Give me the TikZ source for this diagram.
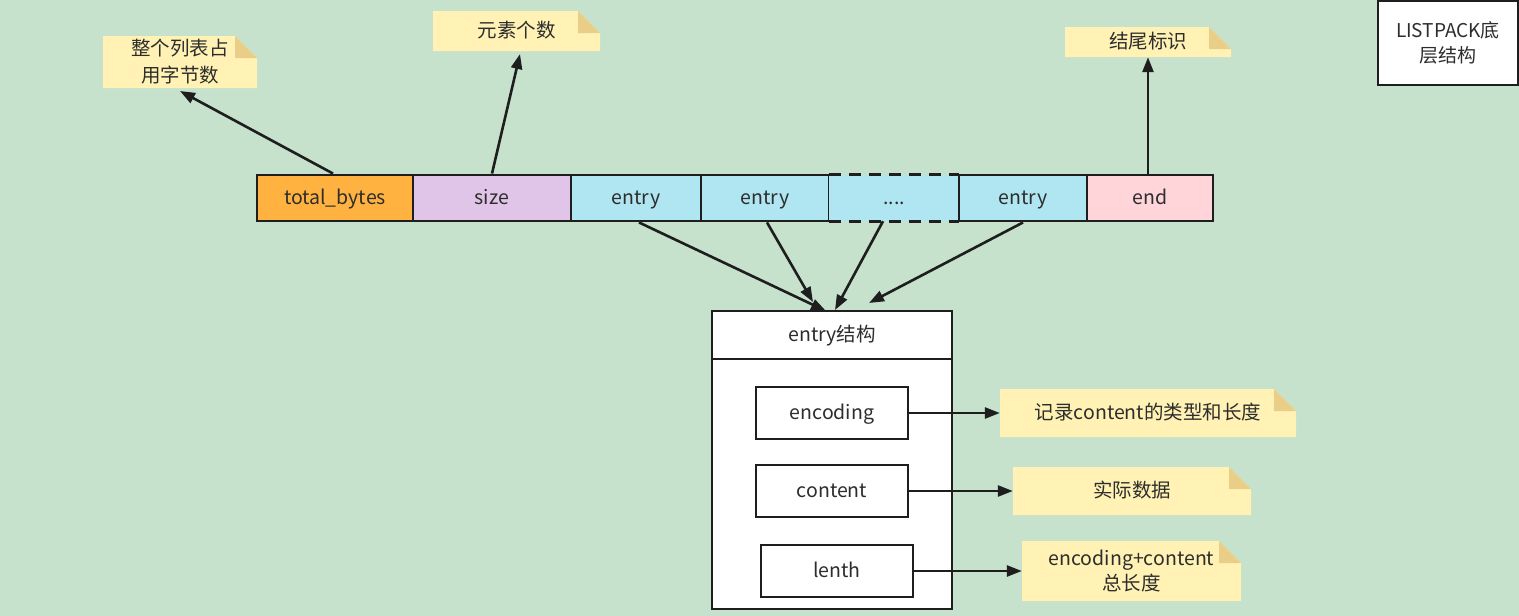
\documentclass[tikz,border=0pt]{standalone}
\usepackage{fontspec}
\setmainfont{Noto Sans CJK SC}
\usetikzlibrary{arrows.meta}
\definecolor{bg}{RGB}{198,225,204}
\definecolor{noteY}{RGB}{255,242,180}
\definecolor{foldY}{RGB}{232,206,135}
\definecolor{cOrange}{RGB}{255,178,64}
\definecolor{cPurple}{RGB}{225,197,232}
\definecolor{cBlue}{RGB}{175,230,242}
\definecolor{cPink}{RGB}{255,213,217}
\definecolor{txt}{RGB}{45,45,45}
\definecolor{ln}{RGB}{30,30,30}
\tikzset{
  every node/.style={font=\fontsize{19.5}{25}\selectfont, text=txt, inner sep=0pt},
  one/.style={text height=15.5pt, text depth=2.5pt},
  cell/.style={one, draw=ln, line width=2.9pt, minimum height=46pt, fill=#1},
  box/.style={one, draw=ln, line width=2.9pt, fill=white},
  note/.style={align=center, path picture={
      \fill[noteY] (path picture bounding box.south west) -- (path picture bounding box.north west)
        -- ([xshift=-22pt]path picture bounding box.north east)
        -- ([yshift=-22pt]path picture bounding box.north east)
        -- (path picture bounding box.south east) -- cycle;
      \fill[foldY] ([xshift=-22pt]path picture bounding box.north east)
        -- ([xshift=-22pt,yshift=-22pt]path picture bounding box.north east)
        -- ([yshift=-22pt]path picture bounding box.north east) -- cycle;}},
  arr/.style={draw=ln, line width=2.6pt, -{Triangle[length=15pt,width=11pt]}},
}
\begin{document}
\begin{tikzpicture}[x=1pt,y=-1pt]
\fill[bg] (0,0) rectangle (1519,616);
\useasboundingbox (0,0) rectangle (1519,616);
% top row
\node[cell=cOrange, minimum width=156pt] (tb) at (335,198) {total\_bytes};
\node[cell=cPurple, minimum width=158pt] (sz) at (492,198) {size};
\node[cell=cBlue, minimum width=130pt] (e1) at (636,198) {entry};
\node[cell=cBlue, minimum width=128pt] (e2) at (765,198) {entry};
\node[one, fill=cBlue, minimum width=130pt, minimum height=46pt] (dt) at (894,198) {....};
\draw[ln, line width=2.9pt, dash pattern=on 12pt off 8pt] (dt.north west) -- (dt.north east);
\draw[ln, line width=2.9pt, dash pattern=on 12pt off 8pt] (dt.south west) -- (dt.south east);
\node[cell=cBlue, minimum width=128pt] (e3) at (1023,198) {entry};
\node[cell=cPink, minimum width=126pt] (en) at (1150,198) {end};
% notes
\node[note, minimum width=154pt, minimum height=52pt, font=\fontsize{19.5}{27}\selectfont] (n1) at (180,62) {整个列表占\\用字节数};
\node[note, one, minimum width=167pt, minimum height=40pt] (n2) at (516.5,31) {元素个数};
\node[note, one, minimum width=166pt, minimum height=30pt] (n3) at (1148,42) {结尾标识};
\node[note, one, minimum width=296pt, minimum height=48pt] (n4) at (1148,413) {记录content的类型和长度};
\node[note, one, minimum width=238pt, minimum height=48pt] (n5) at (1132,491) {实际数据};
\node[note, minimum width=219pt, minimum height=60pt, font=\fontsize{19.5}{25}\selectfont] (n6) at (1131.5,571) {encoding+content\\总长度};
% legend box
\node[draw=ln, line width=2.9pt, fill=white, minimum width=140pt, minimum height=84pt, align=center, font=\fontsize{19}{25}\selectfont] (lp) at (1448,43) {LISTPACK底\\层结构};
% entry structure
\node[box, minimum width=240pt, minimum height=298pt] (es) at (832,460) {};
\node[box, minimum width=240pt, minimum height=48pt] (eh) at (832,335) {entry结构};
\node[box, minimum width=152pt, minimum height=52pt] (enc) at (832,413) {encoding};
\node[box, minimum width=152pt, minimum height=52pt] (con) at (832,491) {content};
\node[box, minimum width=152pt, minimum height=52pt] (len) at (837,571) {lenth};
% arrows
\coordinate (t1) at (180,91);
\coordinate (t2) at (520,54);
\coordinate (ta) at (826,311);
\coordinate (tb2) at (813,302);
\coordinate (tc) at (835,310);
\coordinate (td) at (869,303);
\draw[arr] (tb.north -| 333,0) -- (t1);
\draw[arr] (sz.north -| 492,0) -- (t2);
\draw[arr] (en.north -| 1148,0) -- (n3.south -| 1148,0);
\draw[arr] (e1.south -| 639,0) -- (ta);
\draw[arr] (e2.south -| 767,0) -- (tb2);
\draw[arr] (dt.south -| 883,0) -- (tc);
\draw[arr] (e3.south -| 1023,0) -- (td);
\draw[arr] (enc.east) -- (n4.west);
\draw[arr] (con.east) -- (n5.west);
\draw[arr] (len.east) -- (len.east -| n6.west);
\end{tikzpicture}
\end{document}
